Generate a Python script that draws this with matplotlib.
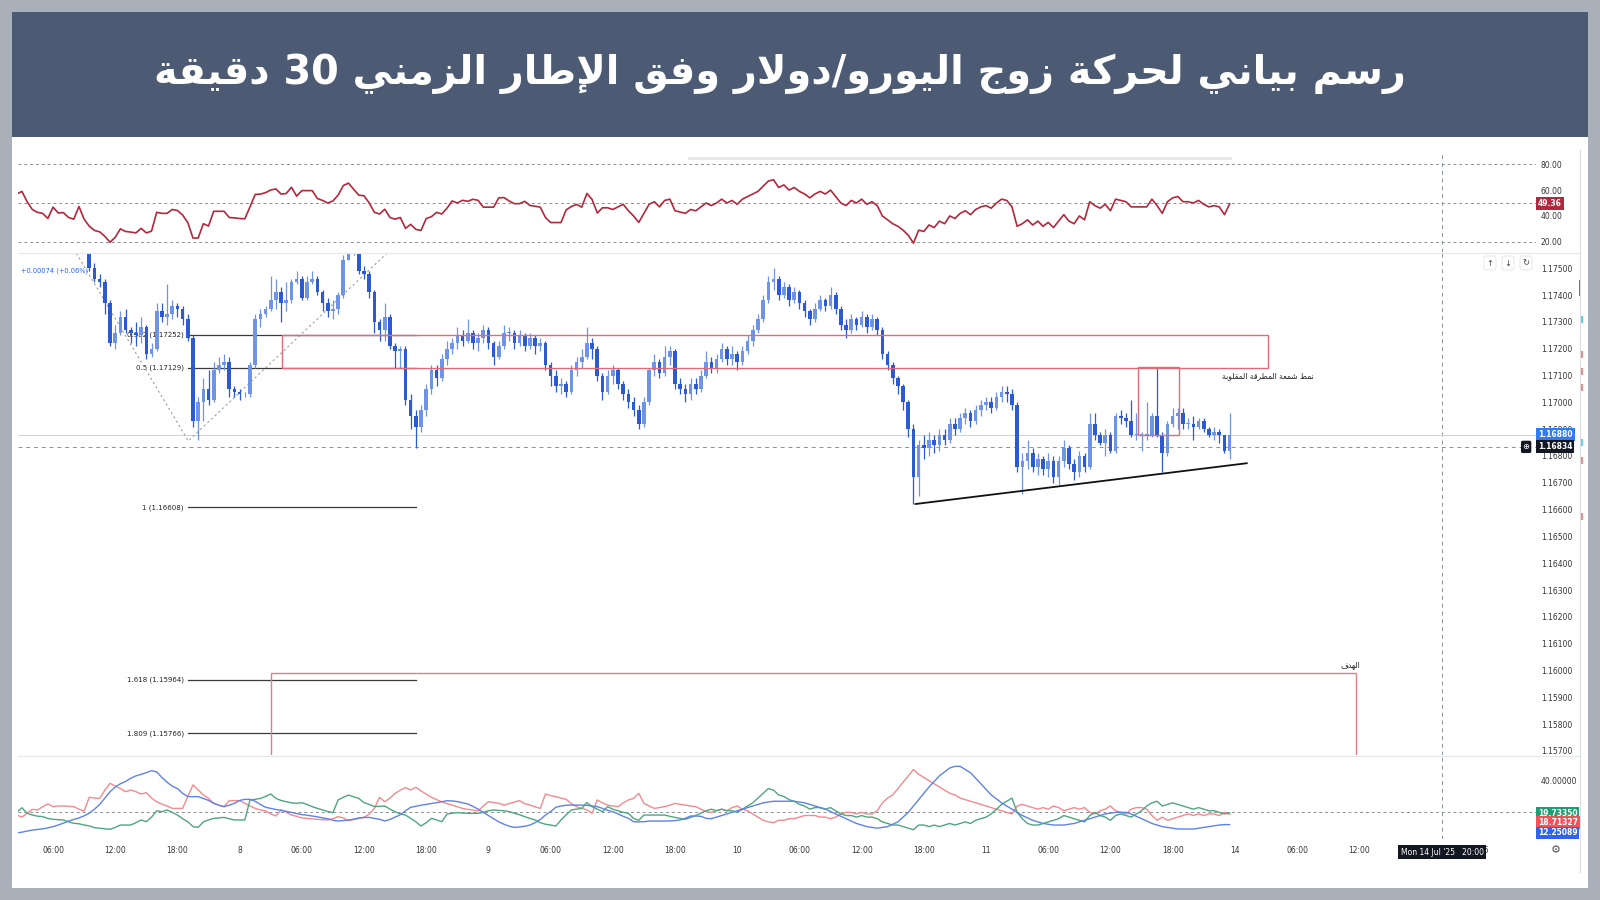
import re
import numpy as np
import matplotlib
matplotlib.use("Agg")
import matplotlib.pyplot as plt
from matplotlib.patches import Rectangle
from matplotlib.lines import Line2D

plt.rcParams['font.family'] = ['DejaVu Sans']

# ---------------- data (EUR/USD 30 min, 7 Jul - 11 Jul 2025) ----------------
first_open = 1.1770
closes = [
    1.1772, 1.1774, 1.1770, 1.1766, 1.1765, 1.1762, 1.1768, 1.1764, 1.1765, 1.1762,
    1.1761, 1.1760, 1.1764, 1.1759, 1.1750, 1.1746, 1.1745, 1.1737, 1.1722, 1.1726,
    1.1732, 1.1727, 1.1726, 1.1725, 1.1728, 1.1718, 1.1720, 1.1734, 1.1732, 1.1733,
    1.1736, 1.1735, 1.1731, 1.1724, 1.1693, 1.1700, 1.1705, 1.1701, 1.1712, 1.1714,
    1.1715, 1.1705, 1.1704, 1.1703, 1.1703, 1.1714, 1.1731, 1.1733, 1.1735, 1.1738,
    1.1741, 1.1737, 1.1738, 1.1745, 1.1746, 1.1739, 1.1745, 1.1746, 1.1741, 1.1737,
    1.1734, 1.1735, 1.1740, 1.1753, 1.1756, 1.1757, 1.1749, 1.1748, 1.1741, 1.1730,
    1.1727, 1.1732, 1.1721, 1.1719, 1.1720, 1.1701, 1.1695, 1.1691, 1.1697, 1.1705,
    1.1712, 1.1709, 1.1716, 1.1720, 1.1722, 1.1725, 1.1723, 1.1726, 1.1722, 1.1724,
    1.1727, 1.1722, 1.1717, 1.1721, 1.1726, 1.1726, 1.1722, 1.1725, 1.1721, 1.1724,
    1.1721, 1.1722, 1.1714, 1.1710, 1.1706, 1.1707, 1.1704, 1.1712, 1.1715, 1.1717,
    1.1722, 1.1720, 1.1710, 1.1704, 1.1710, 1.1712, 1.1707, 1.1703, 1.1700, 1.1697,
    1.1692, 1.1700, 1.1712, 1.1715, 1.1711, 1.1717, 1.1719, 1.1707, 1.1705, 1.1703,
    1.1707, 1.1705, 1.1710, 1.1715, 1.1713, 1.1716, 1.1720, 1.1716, 1.1718, 1.1715,
    1.1719, 1.1723, 1.1727, 1.1731, 1.1738, 1.1745, 1.1746, 1.1740, 1.1743, 1.1738,
    1.1741, 1.1737, 1.1734, 1.1731, 1.1735, 1.1738, 1.1736, 1.1740, 1.1735, 1.1729,
    1.1727, 1.1731, 1.1729, 1.1732, 1.1728, 1.1731, 1.1727, 1.1718, 1.1714, 1.1709,
    1.1706, 1.1700, 1.1690, 1.1672, 1.1684, 1.1683, 1.1686, 1.1684, 1.1688, 1.1686,
    1.1692, 1.1690, 1.1694, 1.1696, 1.1693, 1.1697, 1.1699, 1.1700, 1.1698, 1.1702,
    1.1704, 1.1703, 1.1699, 1.1676, 1.1678, 1.1681, 1.1676, 1.1679, 1.1675, 1.1678,
    1.1672, 1.1678, 1.1683, 1.1677, 1.1674, 1.1680, 1.1676, 1.1692, 1.1688, 1.1685,
    1.1688, 1.1682, 1.1695, 1.1694, 1.1693, 1.1688, 1.1688, 1.1688, 1.1688, 1.1695,
    1.1688, 1.1681, 1.1692, 1.1695, 1.1696, 1.1692, 1.1692, 1.1691, 1.1693, 1.1690,
    1.1688, 1.1689, 1.1688, 1.1682, 1.1688,
]
highs = [
    1.1776, 1.1777, 1.1775, 1.1771, 1.1768, 1.1767, 1.1769, 1.1769, 1.1767, 1.1766,
    1.1764, 1.1763, 1.1766, 1.1765, 1.1760, 1.1752, 1.1748, 1.1746, 1.1738, 1.1729,
    1.1734, 1.1735, 1.1728, 1.1730, 1.1732, 1.1729, 1.1722, 1.1737, 1.1737, 1.1744,
    1.1738, 1.1737, 1.1736, 1.1733, 1.1725, 1.1702, 1.1709, 1.1712, 1.1715, 1.1717,
    1.1718, 1.1717, 1.1706, 1.1705, 1.1704, 1.1715, 1.1733, 1.1735, 1.1736, 1.1747,
    1.1746, 1.1743, 1.1745, 1.1746, 1.1749, 1.1747, 1.1747, 1.1749, 1.1747, 1.1742,
    1.1739, 1.1738, 1.1741, 1.1755, 1.1760, 1.1761, 1.1758, 1.1751, 1.1749, 1.1742,
    1.1731, 1.1737, 1.1733, 1.1722, 1.1721, 1.1721, 1.1703, 1.1697, 1.1699, 1.1707,
    1.1714, 1.1714, 1.1718, 1.1723, 1.1724, 1.1728, 1.1727, 1.1731, 1.1727, 1.1726,
    1.1729, 1.1728, 1.1723, 1.1723, 1.1729, 1.1728, 1.1727, 1.1727, 1.1726, 1.1726,
    1.1725, 1.1724, 1.1723, 1.1715, 1.1712, 1.1709, 1.1708, 1.1714, 1.1717, 1.1720,
    1.1728, 1.1724, 1.1721, 1.1711, 1.1712, 1.1714, 1.1713, 1.1708, 1.1705, 1.1702,
    1.1699, 1.1702, 1.1713, 1.1718, 1.1716, 1.1721, 1.1721, 1.1720, 1.1709, 1.1707,
    1.1709, 1.1709, 1.1712, 1.1719, 1.1717, 1.1718, 1.1722, 1.1721, 1.1721, 1.1719,
    1.1721, 1.1725, 1.1729, 1.1733, 1.1740, 1.1747, 1.1750, 1.1747, 1.1745, 1.1744,
    1.1743, 1.1742, 1.1738, 1.1735, 1.1737, 1.1740, 1.1739, 1.1743, 1.1741, 1.1736,
    1.1731, 1.1733, 1.1732, 1.1734, 1.1733, 1.1733, 1.1732, 1.1728, 1.1719, 1.1715,
    1.1710, 1.1707, 1.1701, 1.1692, 1.1686, 1.1688, 1.1689, 1.1688, 1.1690, 1.1690,
    1.1694, 1.1694, 1.1696, 1.1698, 1.1697, 1.1699, 1.1701, 1.1702, 1.1702, 1.1704,
    1.1706, 1.1706, 1.1705, 1.1700, 1.1681, 1.1686, 1.1683, 1.1681, 1.1680, 1.1681,
    1.1680, 1.1680, 1.1686, 1.1684, 1.1679, 1.1682, 1.1681, 1.1696, 1.1696, 1.1689,
    1.1690, 1.1689, 1.1696, 1.1697, 1.1696, 1.1701, 1.1696, 1.1689, 1.1700, 1.1696,
    1.1713, 1.1689, 1.1693, 1.1698, 1.1698, 1.1698, 1.1694, 1.1695, 1.1694, 1.1694,
    1.1691, 1.1691, 1.1690, 1.1688, 1.1696,
]
lows = [
    1.1768, 1.1770, 1.1768, 1.1764, 1.1763, 1.1760, 1.1761, 1.1763, 1.1762, 1.1760,
    1.1759, 1.1758, 1.1759, 1.1757, 1.1749, 1.1745, 1.1743, 1.1733, 1.1721, 1.1720,
    1.1725, 1.1726, 1.1722, 1.1721, 1.1722, 1.1716, 1.1717, 1.1719, 1.1730, 1.1729,
    1.1731, 1.1732, 1.1729, 1.1723, 1.1691, 1.1686, 1.1693, 1.1699, 1.1700, 1.1711,
    1.1712, 1.1702, 1.1702, 1.1701, 1.1702, 1.1702, 1.1713, 1.1728, 1.1732, 1.1734,
    1.1735, 1.1730, 1.1734, 1.1737, 1.1744, 1.1738, 1.1738, 1.1744, 1.1740, 1.1734,
    1.1732, 1.1731, 1.1733, 1.1739, 1.1753, 1.1755, 1.1748, 1.1746, 1.1739, 1.1726,
    1.1723, 1.1723, 1.1720, 1.1713, 1.1713, 1.1699, 1.1690, 1.1683, 1.1689, 1.1695,
    1.1703, 1.1706, 1.1708, 1.1714, 1.1718, 1.1720, 1.1721, 1.1722, 1.1720, 1.1719,
    1.1722, 1.1720, 1.1714, 1.1716, 1.1720, 1.1723, 1.1720, 1.1721, 1.1719, 1.1720,
    1.1718, 1.1719, 1.1712, 1.1706, 1.1704, 1.1703, 1.1702, 1.1703, 1.1710, 1.1713,
    1.1716, 1.1716, 1.1708, 1.1701, 1.1703, 1.1707, 1.1705, 1.1701, 1.1698, 1.1695,
    1.1690, 1.1691, 1.1699, 1.1710, 1.1709, 1.1710, 1.1714, 1.1705, 1.1703, 1.1700,
    1.1701, 1.1703, 1.1704, 1.1709, 1.1711, 1.1711, 1.1715, 1.1714, 1.1714, 1.1712,
    1.1714, 1.1718, 1.1721, 1.1726, 1.1730, 1.1737, 1.1742, 1.1738, 1.1739, 1.1736,
    1.1737, 1.1735, 1.1732, 1.1729, 1.1730, 1.1734, 1.1734, 1.1735, 1.1733, 1.1727,
    1.1724, 1.1726, 1.1727, 1.1728, 1.1726, 1.1727, 1.1725, 1.1716, 1.1712, 1.1707,
    1.1703, 1.1697, 1.1687, 1.1662, 1.1665, 1.1679, 1.1680, 1.1681, 1.1682, 1.1684,
    1.1685, 1.1688, 1.1689, 1.1692, 1.1691, 1.1692, 1.1695, 1.1697, 1.1696, 1.1697,
    1.1700, 1.1700, 1.1697, 1.1674, 1.1666, 1.1675, 1.1674, 1.1673, 1.1673, 1.1672,
    1.1670, 1.1669, 1.1676, 1.1675, 1.1671, 1.1672, 1.1674, 1.1675, 1.1686, 1.1684,
    1.1680, 1.1681, 1.1681, 1.1692, 1.1691, 1.1687, 1.1686, 1.1682, 1.1686, 1.1687,
    1.1687, 1.1674, 1.1680, 1.1691, 1.1690, 1.1690, 1.1690, 1.1686, 1.1690, 1.1689,
    1.1687, 1.1686, 1.1685, 1.1681, 1.1679,
]

rsi = [
    57, 59, 51, 45, 42.8, 42, 38, 46.8, 42.3, 42.6,
    38.8, 37.5, 47.3, 37.5, 32, 28.8, 27.7, 24.2, 19.7, 23.5,
    30, 28, 27.5, 26.9, 30.4, 26.9, 28.2, 42.8, 42, 42,
    45, 44.2, 40.7, 34.9, 22.9, 22.9, 34, 32.2, 43.6, 43.6,
    43.6, 38.8, 38.5, 38, 37.8, 47, 56.6, 56.9, 58, 60.1,
    60.9, 56.9, 57.4, 62.2, 55.3, 59.6, 59.6, 59.6, 53.5, 52,
    50, 51.6, 56.1, 63.5, 65.4, 60.6, 56.1, 55.6, 50, 42.8,
    41.5, 45.2, 38.8, 37.5, 38.8, 30.4, 33.5, 29.6, 28.8, 38,
    39.4, 42.8, 41.5, 46, 51.6, 50, 52.1, 51.3, 52.9, 52.1,
    46.8, 46.8, 46.8, 54, 54.2, 51.6, 49.5, 49.5, 51.3, 48.1,
    47.5, 46.8, 38.8, 34.9, 34.9, 34.9, 44.7, 47.3, 48.9, 46.8,
    57.4, 52.7, 42.3, 46.3, 46.3, 45, 47, 49, 44, 40,
    35, 42, 49, 51, 47, 52, 53, 44, 43, 42,
    45, 44, 47, 50, 48, 50, 53, 50, 52, 49,
    53, 55, 57, 59, 63, 67, 68, 62, 64, 60,
    62, 59, 57, 54, 57, 59, 57, 60, 55, 50,
    48, 52, 50, 53, 49, 51, 48, 40, 37, 34,
    32, 29, 25, 19, 29, 28, 33, 31, 36, 34,
    40, 38, 42, 44, 41, 45, 47, 48, 46, 50,
    53, 52, 47, 32, 34, 37, 33, 36, 32, 35,
    31, 36, 41, 36, 34, 40, 37, 51, 48, 46,
    49, 44, 53, 52, 51, 47, 47, 47, 47, 53,
    48, 42, 51, 54, 55, 51, 51, 50, 52, 49,
    47, 48, 47, 41, 49.36,
]

adx = [
    7, 7.5, 8.2, 8.8, 9.2, 9.6, 10.2, 11, 12, 13.2,
    14.5, 15.5, 16.5, 17.8, 19.5, 22, 25, 29, 33, 36,
    38, 39.5, 41.5, 43, 44, 45, 46.3, 45.5, 42, 39,
    36.5, 35, 32, 30, 29.9, 29.9, 28.8, 27.5, 25.7, 24.5,
    23.6, 24.5, 25.7, 27.5, 28.2, 28.2, 27, 25, 23.2, 22.5,
    21.8, 21.3, 20.6, 20, 19.2, 18.6, 18.2, 17.7, 17.2, 16.5,
    16, 15, 14.5, 14.8, 15.2, 15.7, 16.5, 16.8, 16.8, 16.2,
    15.6, 14.6, 15.5, 17, 18.5, 21, 23.2, 23.8, 24.5, 25,
    25.6, 26.1, 26.7, 27.3, 27.2, 26.8, 26, 25.3, 23.8, 22,
    20, 18, 16, 14, 12.5, 11.3, 10.5, 10.8, 11.2, 12,
    13.5, 15.5, 18.3, 20.5, 23.2, 24, 24.5, 24.6, 24.6, 24.6,
    24.4, 24, 23.6, 22.5, 21.3, 20.4, 19, 17.5, 16.2, 14.1,
    14, 14.1, 14.5, 14.5, 14.5, 14.5, 14.6, 14.8, 15.2, 16.3,
    17.7, 17.7, 17.5, 16.2, 16, 17, 18, 19, 20, 21,
    22, 23, 24, 25, 26, 26.5, 27, 27, 27, 27,
    27, 26.5, 26, 25, 24, 23, 22, 20.5, 19, 17.5,
    16, 14.5, 13, 12, 11, 10.5, 10, 10.5, 11, 12.5,
    14, 17, 20, 24, 28, 32, 36, 39.5, 43, 45.5,
    48, 49, 49, 47, 45, 41.5, 38, 34.5, 31, 28.5,
    26, 24, 22, 20, 18, 16.5, 15, 14, 13, 12.5,
    12, 12, 12, 12.5, 13, 14, 15, 16, 17, 18,
    19, 19.5, 20, 20, 20, 19, 17.5, 16, 14.5, 13,
    12, 11, 10.5, 10, 9.5, 9.5, 9.5, 9.5, 10, 10.5,
    11, 11.5, 12, 12.3, 12.25089,
]
minus_di = [
    18.3, 17, 19.5, 21.9, 21.5, 23.5, 25.3, 23.6, 24, 24,
    23.8, 23.6, 22, 20.8, 29.5, 29, 28.8, 34, 38.3, 36.6,
    35, 33, 34.1, 33, 31.6, 32.4, 29, 26.7, 25.2, 24,
    22.5, 22.5, 22.5, 30, 37.3, 34.1, 31, 28.8, 25.7, 24.5,
    23.6, 27.4, 27.4, 27.4, 25.7, 24, 22.5, 21.5, 21, 19,
    17.7, 21.5, 20, 18.3, 17.5, 16.5, 16.2, 15.9, 15.6, 15.4,
    15.2, 16, 17.3, 16.5, 14.7, 15.5, 16.2, 16.8, 19, 22.5,
    29.5, 26.7, 29, 32, 34, 35.6, 34.1, 35.8, 33.5, 31.5,
    29.5, 28, 26.7, 25.5, 24.6, 23.5, 22.5, 21.9, 21.5, 20.8,
    24, 26.7, 26.2, 25.7, 24.6, 25.5, 26.5, 27.4, 25.5, 24.6,
    23.5, 22.5, 31.6, 30.5, 29.9, 29, 28.2, 25.5, 23.6, 22.5,
    21.5, 19.4, 27.8, 26, 24.6, 24, 23.6, 26, 27.8, 28.8,
    32, 25.7, 24, 22.5, 23, 23.6, 24.5, 25.7, 25, 24.6,
    24, 23.6, 22, 20.4, 20, 21, 22, 21, 23, 24,
    22, 21, 19, 17, 15, 14, 13.5, 15, 15, 16,
    16, 17, 18, 18, 18, 17, 17, 16, 17, 19,
    20, 20, 19, 20, 19, 19, 21, 26, 29, 31,
    35, 39, 43, 47, 44, 42, 40, 38, 36, 34,
    32, 31, 29, 28, 27, 26, 25, 24, 23, 22,
    21, 20, 19, 24, 25, 24, 23, 22, 23, 22,
    24, 23, 21, 22, 23, 22, 23, 20, 19, 21,
    22, 24, 21, 20, 19, 22, 23, 23, 22, 18,
    15, 17, 15, 16, 17, 18, 19, 18, 19, 18,
    19, 19, 18, 20, 18.71327,
]
plus_di = [
    20, 22.9, 19.4, 18.3, 17.6, 17.3, 16.2, 15.6, 15.4, 15.2,
    14, 13.1, 12.8, 12, 11.5, 10.3, 10, 9.6, 9.3, 10.5,
    12, 12, 12, 13.5, 15.2, 14.1, 17, 21, 20.4, 21.5,
    20, 18.3, 16, 14.1, 11, 10.5, 14, 15.2, 16.2, 16.5,
    16.8, 16, 15.2, 15.2, 15.2, 27.8, 28.2, 28.8, 30, 31.6,
    28.8, 27.5, 26.7, 26, 25.7, 26.1, 25, 23.6, 22.5, 21.5,
    20.6, 19.8, 27.8, 29.5, 30.9, 29.8, 28.8, 26.1, 25, 23.6,
    23.8, 24, 22, 20.4, 19, 18.3, 16.2, 14, 11.4, 13.5,
    16.2, 15.2, 14.1, 18.9, 19.5, 19.8, 19.6, 19.4, 19.4, 19.4,
    20, 21, 21.5, 21.2, 21, 20.5, 19.4, 18.5, 17.3, 16.2,
    15.2, 13.5, 12.5, 12, 11.4, 15.2, 18.5, 21.5, 22, 22.5,
    26.1, 23.6, 22, 20.4, 23.6, 22, 21, 20, 19.4, 16.2,
    15, 18.3, 18.3, 18.3, 18.3, 18.3, 17.5, 16.8, 16.2, 15.6,
    16.8, 18, 19.5, 21, 22, 21, 22, 21, 21, 20,
    22, 24, 26, 29, 32, 35, 34, 31, 30, 28,
    27, 25, 24, 22, 23, 23, 22, 23, 21, 19,
    18, 18, 17, 18, 17, 17, 16, 14, 13, 12,
    12, 11, 10, 9, 12, 12, 11, 12, 11, 12,
    13, 12, 13, 14, 13, 15, 16, 17, 19, 22,
    25, 27, 29, 20, 16, 13, 12, 12, 13, 14,
    15, 16, 18, 17, 16, 15, 14, 18, 20, 18,
    17, 15, 18, 19, 18, 17, 19, 21, 24, 26,
    27, 24, 25, 26, 25, 24, 23, 22, 23, 22,
    21, 21, 20, 19, 19.7335,
]

tick_idx = [7, 19, 31, 43, 55, 67, 79, 91, 103, 115, 127, 139, 151, 163, 175, 187,
            199, 211, 223, 235, 247, 259, 283]
tick_lab = ['06:00', '12:00', '18:00', '8', '06:00', '12:00', '18:00', '9', '06:00', '12:00',
            '18:00', '10', '06:00', '12:00', '18:00', '11', '06:00', '12:00', '18:00', '14',
            '06:00', '12:00', '15']

fib_levels = [0.382, 0.5, 1, 1.618, 1.809]
fib_prices = [1.17252, 1.17129, 1.16608, 1.15964, 1.15766]

last_price = 1.16880
cross_price = 1.16834
cross_idx = 275

TITLE = "رسم بياني لحركة زوج اليورو/دولار وفق الإطار الزمني 30 دقيقة"
PATTERN_LABEL = "نمط شمعة المطرقة المقلوبة"
TARGET_LABEL = "الهدف"

# ---------------- arabic shaping (matplotlib has no complex text layout) ----------------
AR_FORMS = {
    'ا': ('\uFE8D', '\uFE8E', None, None),
    'إ': ('\uFE87', '\uFE88', None, None),
    'ب': ('\uFE8F', '\uFE90', '\uFE91', '\uFE92'),
    'ة': ('\uFE93', '\uFE94', None, None),
    'ج': ('\uFE9D', '\uFE9E', '\uFE9F', '\uFEA0'),
    'ح': ('\uFEA1', '\uFEA2', '\uFEA3', '\uFEA4'),
    'د': ('\uFEA9', '\uFEAA', None, None),
    'ر': ('\uFEAD', '\uFEAE', None, None),
    'ز': ('\uFEAF', '\uFEB0', None, None),
    'س': ('\uFEB1', '\uFEB2', '\uFEB3', '\uFEB4'),
    'ش': ('\uFEB5', '\uFEB6', '\uFEB7', '\uFEB8'),
    'ط': ('\uFEC1', '\uFEC2', '\uFEC3', '\uFEC4'),
    'ع': ('\uFEC9', '\uFECA', '\uFECB', '\uFECC'),
    'ف': ('\uFED1', '\uFED2', '\uFED3', '\uFED4'),
    'ق': ('\uFED5', '\uFED6', '\uFED7', '\uFED8'),
    'ك': ('\uFED9', '\uFEDA', '\uFEDB', '\uFEDC'),
    'ل': ('\uFEDD', '\uFEDE', '\uFEDF', '\uFEE0'),
    'م': ('\uFEE1', '\uFEE2', '\uFEE3', '\uFEE4'),
    'ن': ('\uFEE5', '\uFEE6', '\uFEE7', '\uFEE8'),
    'ه': ('\uFEE9', '\uFEEA', '\uFEEB', '\uFEEC'),
    'و': ('\uFEED', '\uFEEE', None, None),
    'ي': ('\uFEF1', '\uFEF2', '\uFEF3', '\uFEF4'),
}
LAM_ALEF = {'ا': ('\uFEFB', '\uFEFC'), 'إ': ('\uFEF9', '\uFEFA')}


def shape(text):
    out = []
    k = 0
    n = len(text)
    while k < n:
        c = text[k]
        if c not in AR_FORMS:
            out.append(c)
            k += 1
            continue
        prev = text[k - 1] if k > 0 else ''
        joins_prev = prev in AR_FORMS and AR_FORMS[prev][2] is not None
        if c == 'ل' and k + 1 < n and text[k + 1] in LAM_ALEF:
            iso, fin = LAM_ALEF[text[k + 1]]
            out.append(fin if joins_prev else iso)
            k += 2
            continue
        nxt = text[k + 1] if k + 1 < n else ''
        joins_next = AR_FORMS[c][2] is not None and nxt in AR_FORMS
        iso, fin, ini, med = AR_FORMS[c]
        if joins_prev and joins_next:
            out.append(med)
        elif joins_prev:
            out.append(fin)
        elif joins_next:
            out.append(ini)
        else:
            out.append(iso)
        k += 1
    vis = ''.join(reversed(out))
    return re.sub(r'[0-9.]+', lambda m: m.group(0)[::-1], vis)


# ---------------- figure ----------------
W, H = 1600, 900
fig = plt.figure(figsize=(16, 9), dpi=100, facecolor='#a9b0b9')


def fx(px):
    return px / W


def fy(py):
    return 1 - py / H


fig.add_artist(Rectangle((fx(12), fy(888)), fx(1576), (888 - 137) / H, transform=fig.transFigure,
                         facecolor='white', edgecolor='none', zorder=0))
fig.add_artist(Rectangle((fx(12), fy(137)), fx(1576), (137 - 12) / H, transform=fig.transFigure,
                         facecolor='#4c5b73', edgecolor='none', zorder=0))
fig.text(fx(780), fy(74), shape(TITLE), color='white', fontsize=28.6, fontweight='bold',
         ha='center', va='center')

L, R = 18.4, 1536
ax_w = (R - L) / W
ax_rsi = fig.add_axes([fx(L), fy(252), ax_w, 99 / H])
ax = fig.add_axes([fx(L), fy(755), ax_w, 502 / H])
ax_dmi = fig.add_axes([fx(L), fy(839), ax_w, 82 / H])

XMIN, XMAX = 0.32, 293.1
for a in (ax_rsi, ax, ax_dmi):
    a.set_xlim(XMIN, XMAX)
    a.set_facecolor('none')
    for s in a.spines.values():
        s.set_visible(False)
    a.yaxis.tick_right()
    a.tick_params(axis='y', length=0, pad=3.5, labelsize=5.5, labelcolor='#333333')
    a.tick_params(axis='x', length=0)
    a.axvline(cross_idx, color='#8a8f99', lw=0.7, ls=(0, (4, 4)), zorder=1)

ax_rsi.set_xticks([])
ax.set_xticks([])

# separators and window edge
for yy in (252.5, 755.5):
    fig.add_artist(Line2D([fx(18), fx(1580)], [fy(yy), fy(yy)], transform=fig.transFigure,
                          color='#e3e6ec', lw=0.8))
fig.add_artist(Line2D([fx(1580), fx(1580)], [fy(150), fy(872)], transform=fig.transFigure,
                      color='#d8dbe0', lw=0.8))
fig.add_artist(Line2D([fx(689), fx(1230)], [fy(158), fy(158)], transform=fig.transFigure,
                      color='#e4e6ea', lw=2))
fig.add_artist(Rectangle((fx(1579), fy(296)), 2 / W, 16 / H, transform=fig.transFigure,
                         facecolor='#6b6f78', edgecolor='none'))
for yy, cc in [(320, '#5fd3e6'), (355, '#ef8a8a'), (372, '#ef8a8a'), (388, '#ef8a8a'),
               (443, '#5fd3e6'), (461, '#ef8a8a'), (517, '#ef8a8a')]:
    fig.add_artist(Rectangle((fx(1580), fy(yy + 3)), 2.5 / W, 7 / H, transform=fig.transFigure,
                             facecolor=cc, edgecolor='none'))

x = np.arange(len(closes))

# ---------------- RSI ----------------
r = np.array(rsi)
ax_rsi.plot(x, r, color='#b2283c', lw=1.2, zorder=3)
ax_rsi.fill_between(x, r, 20, where=r < 20, color='#f6c9cc', interpolate=True, zorder=2)
for lv in (80, 50, 20):
    ax_rsi.axhline(lv, color='#8a8f99', lw=0.7, ls=(0, (3, 3)), zorder=1)
ax_rsi.set_ylim(12.1, 88.7)
ax_rsi.set_yticks([20, 40, 60, 80])
ax_rsi.set_yticklabels(['20.00', '40.00', '60.00', '80.00'])
ax_rsi.text(1.0013, rsi[-1], '%.2f' % rsi[-1], transform=ax_rsi.get_yaxis_transform(),
            ha='left', va='center', fontsize=5.5, color='white', fontweight='bold',
            bbox=dict(boxstyle='square,pad=0.25', fc='#b2283c', ec='none'), zorder=6, clip_on=False)

# ---------------- candles ----------------
UP, DOWN = '#6f93e6', '#2c5ad2'
c = np.array(closes)
o = np.array([first_open] + closes[:-1])
col = np.where(c >= o, UP, DOWN)
ax.vlines(x, lows, highs, colors=col, lw=0.9, zorder=3)
ax.bar(x, np.maximum(np.abs(c - o), 0.00003), bottom=np.minimum(o, c), width=0.7,
       color=col, linewidth=0, zorder=3)

ax.set_ylim(1.15685, 1.17557)
pt = np.arange(1.157, 1.17501, 0.001)
ax.set_yticks(pt)
ax.set_yticklabels(['%.5f' % p for p in pt])

ax.axhline(last_price, color='#d0d4db', lw=0.8, zorder=1)
ax.axhline(cross_price, color='#8a8f99', lw=0.7, ls=(0, (4, 4)), zorder=1)

# fib levels
fib_start, fib_end = 33.1, 77.1
for lv, p in zip(fib_levels, fib_prices):
    ax.plot([fib_start, fib_end], [p, p], color='#3a3a3a', lw=0.9, zorder=2)
    ax.text(fib_start - 0.9, p, '%s (%.5f)' % (lv, p), ha='right', va='center',
            fontsize=5, color='#222222', zorder=2)

# fib trend lines
ax.plot([11.5, 33.1, 71.4], [1.17556, 1.16856, 1.17556], color='#9a9ea6', lw=0.8,
        ls=(0, (2, 2.5)), zorder=2)

# zones
ZONE = '#df6b78'
ax.add_patch(Rectangle((51.1, 1.17129), 241.4 - 51.1, 1.17252 - 1.17129, fill=False,
                       ec=ZONE, lw=1, zorder=4))
ax.add_patch(Rectangle((216.4, 1.1688), 224.3 - 216.4, 1.17131 - 1.1688, fill=False,
                       ec=ZONE, lw=1, zorder=4))
ax.add_patch(Rectangle((49.1, 1.1550), 258.4 - 49.1, 1.15989 - 1.1550, fill=False,
                       ec='#d9808c', lw=1, zorder=4))
ax.text(232.5, 1.17100, shape(PATTERN_LABEL), ha='left', va='center', fontsize=5.5,
        color='#222222', zorder=5)
ax.text(259.2, 1.16005, shape(TARGET_LABEL), ha='right', va='bottom', fontsize=5.5,
        color='#222222', zorder=5)

# ascending support line
ax.plot([173.4, 237.3], [1.16621, 1.16773], color='#111111', lw=1.3, zorder=5)

ax.text(0.0015, 0.965, '+0.00074 (+0.06%)', transform=ax.transAxes, fontsize=4.8,
        color='#2962ff', ha='left', va='center')
for xx, s in [(1490, '↑'), (1508, '↓'), (1526, '↻')]:
    fig.text(fx(xx), fy(263), s, fontsize=6, color='#444444', ha='center', va='center',
             bbox=dict(boxstyle='round,pad=0.3', fc='white', ec='#e0e3eb', lw=0.6))

ytr = ax.get_yaxis_transform()
ax.text(1.0013, last_price, '%.5f' % last_price, transform=ytr, ha='left', va='center',
        fontsize=5.5, color='white', fontweight='bold', zorder=6, clip_on=False,
        bbox=dict(boxstyle='square,pad=0.25', fc='#2f7bf5', ec='none'))
ax.text(1.0013, cross_price, '%.5f' % cross_price, transform=ytr, ha='left', va='center',
        fontsize=5.5, color='white', fontweight='bold', zorder=6, clip_on=False,
        bbox=dict(boxstyle='square,pad=0.25', fc='#131722', ec='none'))
ax.text(0.9935, cross_price, '⊕', transform=ytr, ha='center', va='center',
        fontsize=6, color='white', zorder=6, clip_on=False,
        bbox=dict(boxstyle='round,pad=0.2', fc='#131722', ec='none'))

# ---------------- DMI ----------------
ax_dmi.plot(x, minus_di, color='#f28a8f', lw=1, zorder=3)
ax_dmi.plot(x, plus_di, color='#4fa67d', lw=1, zorder=3)
ax_dmi.plot(x, adx, color='#5f82e6', lw=1, zorder=3)
ax_dmi.axhline(20, color='#8a8f99', lw=0.7, ls=(0, (3, 3)), zorder=1)
ax_dmi.set_ylim(3.2, 54.9)
ax_dmi.set_yticks([40])
ax_dmi.set_yticklabels(['40.00000'])
dtr = ax_dmi.get_yaxis_transform()
for yv, val, cc in [(19.4, plus_di[-1], '#1f9e72'), (13.6, minus_di[-1], '#f0525a'),
                    (7.1, adx[-1], '#2f62f0')]:
    ax_dmi.text(1.0013, yv, '%.5f' % val, transform=dtr, ha='left', va='center',
                fontsize=5.5, color='white', fontweight='bold', zorder=6, clip_on=False,
                bbox=dict(boxstyle='square,pad=0.22', fc=cc, ec='none'))

ax_dmi.set_xticks(tick_idx)
ax_dmi.set_xticklabels(tick_lab)
ax_dmi.tick_params(axis='x', labelsize=5.5, labelcolor='#333333', pad=5)
ax_dmi.text(cross_idx, -0.16, "Mon 14 Jul '25   20:00", transform=ax_dmi.get_xaxis_transform(),
            ha='center', va='center', fontsize=5.5, color='white', zorder=6, clip_on=False,
            bbox=dict(boxstyle='square,pad=0.35', fc='#131722', ec='none'))
fig.text(fx(1556), fy(850), '⚙', fontsize=8, color='#555555', ha='center', va='center')

fig.savefig('out.png', dpi=100, facecolor=fig.get_facecolor())
